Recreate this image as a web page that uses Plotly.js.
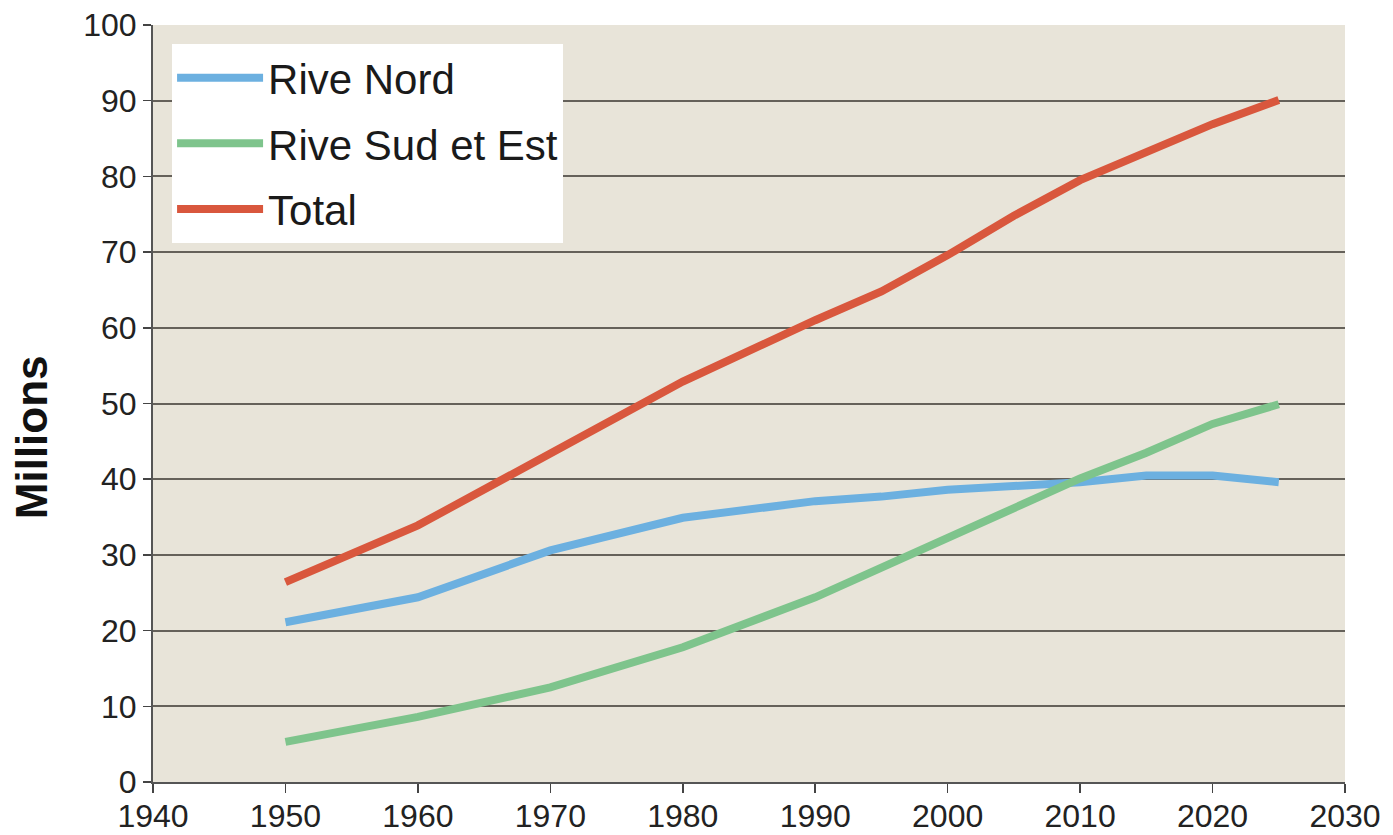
<!DOCTYPE html>
<html>
<head>
<meta charset="utf-8">
<script src="https://cdn.plot.ly/plotly-3.0.1.min.js"></script>
<style>html,body{margin:0;padding:0;background:#fff;}#chart{width:1393px;height:835px;}</style>
</head>
<body>
<div id="chart"></div>
<script>
const years = [1950, 1960, 1970, 1980, 1990, 1995, 2000, 2005, 2010, 2015, 2020, 2025];
const riveNord = [21.1, 24.4, 30.6, 34.9, 37.1, 37.7, 38.6, 39.2, 39.6, 40.5, 40.5, 39.6];
const riveSudEst = [5.3, 8.6, 12.5, 17.8, 24.4, 28.3, 32.1, 36.0, 40.1, 43.5, 47.3, 49.9];
const total = [26.4, 33.9, 43.4, 52.9, 61.0, 64.8, 69.6, 74.8, 79.5, 83.3, 86.9, 90.1];
const seriesNames = ["Rive Nord", "Rive Sud et Est", "Total"];
const seriesColors = ["#6CB0E0", "#7EC48C", "#D9573D"];
const xTicks = [1940, 1950, 1960, 1970, 1980, 1990, 2000, 2010, 2020, 2030];
const yTicks = [0, 10, 20, 30, 40, 50, 60, 70, 80, 90, 100];
const yTitle = "Millions";

const seriesValues = [riveNord, riveSudEst, total];
const traces = seriesValues.map((vals, i) => ({
  type: 'scatter', mode: 'lines', x: years, y: vals, name: seriesNames[i],
  legendgroup: 'g' + i,
  line: {color: seriesColors[i], width: 8}
}));

const font = "Liberation Sans, Arial, sans-serif";
const layout = {
  width: 1393, height: 835,
  margin: {l: 153, r: 48, t: 25, b: 53},
  paper_bgcolor: '#ffffff',
  plot_bgcolor: '#E8E4D9',
  showlegend: true,
  legend: {
    x: 0.016, y: 0.975, xanchor: 'left', yanchor: 'top',
    bgcolor: '#ffffff', borderwidth: 0,
    font: {family: font, size: 42, color: '#1a1a1a'},
    traceorder: 'grouped', tracegroupgap: 8, itemwidth: 86
  },
  xaxis: {
    range: [1940, 2030], tickvals: xTicks, ticktext: xTicks.map(String),
    showgrid: false, zeroline: false,
    showline: true, linecolor: '#555', linewidth: 2,
    ticks: 'outside', ticklen: 9, tickwidth: 1.5, tickcolor: '#444',
    ticklabelstandoff: -4,
    tickfont: {family: font, size: 32, color: '#222'}
  },
  yaxis: {
    range: [0, 100], tickvals: yTicks, ticktext: yTicks.map(String),
    showgrid: true, gridcolor: '#65615a', gridwidth: 2,
    zeroline: false,
    showline: true, linecolor: '#555', linewidth: 2,
    ticks: 'outside', ticklen: 8, tickwidth: 1.5, tickcolor: '#444',
    tickfont: {family: font, size: 32, color: '#222'}
  },
  annotations: [{
    text: yTitle, xref: 'paper', yref: 'paper', x: -0.102, y: 0.456,
    xanchor: 'center', yanchor: 'middle', textangle: -90, showarrow: false,
    font: {family: font, size: 44, color: '#111', weight: 'bold'}
  }]
};
Plotly.newPlot('chart', traces, layout, {displayModeBar: false, staticPlot: true});
</script>
</body>
</html>
